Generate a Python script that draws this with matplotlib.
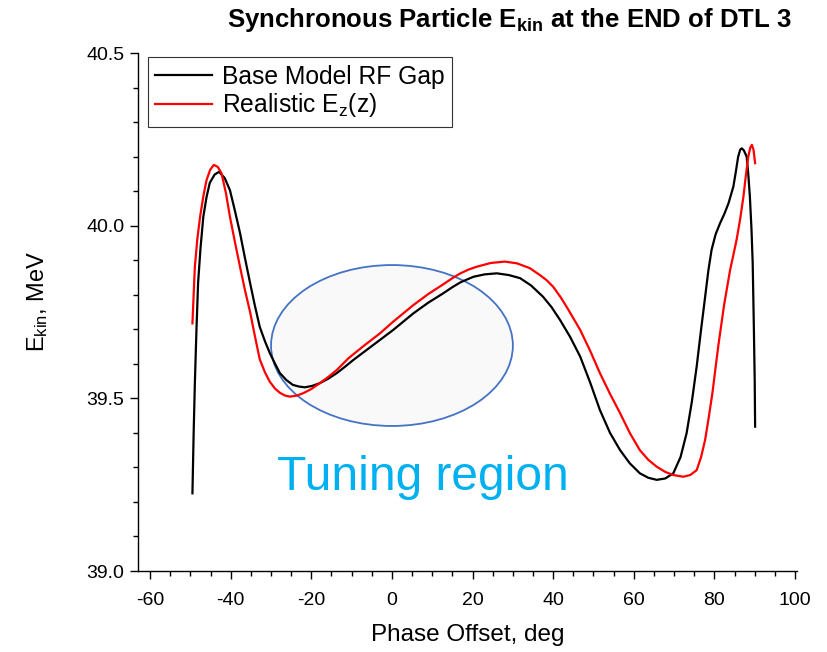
import matplotlib
matplotlib.use('Agg')
import matplotlib.pyplot as plt
from matplotlib.patches import Ellipse
from matplotlib.ticker import MultipleLocator, FormatStrFormatter

plt.rcParams['font.family'] = ['Liberation Sans', 'DejaVu Sans']
plt.rcParams['mathtext.fontset'] = 'custom'
plt.rcParams['mathtext.rm'] = 'Liberation Sans'
plt.rcParams['mathtext.it'] = 'Liberation Sans:italic'
plt.rcParams['mathtext.bf'] = 'Liberation Sans:bold'
plt.rcParams['axes.unicode_minus'] = False

# synchronous particle energy vs phase offset, base RF gap model
phase_base = [-49.5, -49.2, -48.9, -48.5, -48.1, -47.5, -46.8, -46.0, -45.2, -44.0,
              -42.9, -41.5, -40.2, -39.0, -37.7, -36.5, -35.2, -34.0, -32.8, -31.5,
              -30.3, -29.0, -27.8, -26.2, -24.6, -23.0, -21.6, -19.8, -17.9, -15.8,
              -13.7, -11.6, -9.6, -6.3, -3.0, 0.3, 2.8, 5.3, 9.0, 12.7,
              15.0, 17.0, 20.2, 23.0, 26.0, 29.0, 31.8, 34.5, 37.5, 39.6,
              41.7, 44.2, 46.7, 49.2, 51.6, 54.1, 56.6, 59.0, 61.5, 63.6,
              65.7, 67.8, 69.8, 71.6, 73.1, 74.4, 75.6, 76.7, 77.7, 78.5,
              79.3, 80.3, 81.4, 82.5, 83.5, 84.7, 85.3, 85.9, 86.4, 86.8,
              87.3, 88.0, 88.4, 88.8, 89.2, 89.5, 89.8, 90.0, 90.1]
ekin_base = [39.225, 39.400, 39.544, 39.700, 39.834, 39.935, 40.026, 40.083, 40.124, 40.148,
             40.156, 40.138, 40.103, 40.045, 39.979, 39.908, 39.834, 39.768, 39.707, 39.665,
             39.631, 39.600, 39.573, 39.553, 39.539, 39.534, 39.532, 39.536, 39.544, 39.557,
             39.573, 39.592, 39.611, 39.640, 39.669, 39.698, 39.722, 39.746, 39.777, 39.804,
             39.822, 39.836, 39.852, 39.859, 39.862, 39.857, 39.848, 39.827, 39.794, 39.764,
             39.727, 39.678, 39.621, 39.545, 39.466, 39.400, 39.350, 39.312, 39.283, 39.270,
             39.264, 39.268, 39.283, 39.330, 39.399, 39.490, 39.592, 39.700, 39.794, 39.870,
             39.930, 39.975, 40.007, 40.035, 40.065, 40.113, 40.155, 40.200, 40.220, 40.224,
             40.218, 40.200, 40.150, 40.084, 39.990, 39.891, 39.698, 39.550, 39.418]

# same with the realistic Ez(z) field map
phase_real = [-49.5, -49.2, -48.9, -48.3, -47.6, -46.8, -46.0, -45.1, -44.2, -43.2,
              -42.3, -41.2, -40.2, -39.0, -37.7, -36.5, -35.2, -34.0, -32.8, -31.5,
              -30.3, -29.0, -27.8, -26.5, -25.3, -23.6, -22.0, -20.0, -17.9, -15.8,
              -13.7, -10.8, -7.0, -3.0, 0.3, 2.8, 5.3, 9.0, 12.7, 15.0,
              17.0, 19.0, 21.0, 24.5, 28.0, 31.0, 34.2, 36.7, 38.4, 40.0,
              41.9, 43.7, 46.7, 49.2, 51.6, 54.1, 56.6, 59.0, 61.5, 63.6,
              65.7, 67.8, 69.8, 72.3, 74.0, 75.6, 76.7, 77.7, 78.6, 79.5,
              80.3, 81.0, 82.4, 83.9, 84.7, 85.5, 86.4, 87.2, 87.8, 88.4,
              88.9, 89.3, 89.7, 90.1]
ekin_real = [39.717, 39.800, 39.881, 39.960, 40.026, 40.085, 40.132, 40.162, 40.176, 40.170,
             40.152, 40.095, 40.026, 39.955, 39.881, 39.815, 39.750, 39.680, 39.613, 39.575,
             39.548, 39.528, 39.516, 39.508, 39.505, 39.508, 39.515, 39.527, 39.544, 39.562,
             39.582, 39.616, 39.652, 39.688, 39.722, 39.746, 39.770, 39.802, 39.830, 39.848,
             39.862, 39.873, 39.881, 39.892, 39.896, 39.891, 39.877, 39.857, 39.842, 39.823,
             39.792, 39.758, 39.698, 39.637, 39.573, 39.513, 39.457, 39.400, 39.350, 39.322,
             39.302, 39.287, 39.278, 39.273, 39.278, 39.292, 39.330, 39.380, 39.445, 39.515,
             39.590, 39.655, 39.770, 39.872, 39.915, 39.959, 40.020, 40.084, 40.145, 40.200,
             40.226, 40.234, 40.220, 40.181]

fig = plt.figure(figsize=(8.28, 6.52), dpi=100)
ax = fig.add_axes([0.1667, 0.1242, 0.7959, 0.7945])

# tuning region highlight
ell = Ellipse((0, 39.653), 60, 0.466, facecolor='#f9f9f9', edgecolor='#4472C4',
              lw=1.3, zorder=1)
ax.add_patch(ell)
ax.text(-28.6, 39.235, 'Tuning region', color='#00B0F0', fontsize=34.5, zorder=2)

ax.plot(phase_base, ekin_base, color='black', lw=1.6, zorder=3, label='Base Model RF Gap')
ax.plot(phase_real, ekin_real, color='#ff0000', lw=1.6, zorder=3,
        label=r'Realistic E$_\mathrm{z}$(z)')

ax.set_xlim(-63, 100.5)
ax.set_ylim(39.0, 40.5)
ax.xaxis.set_major_locator(MultipleLocator(20))
ax.xaxis.set_minor_locator(MultipleLocator(5))
ax.yaxis.set_major_locator(MultipleLocator(0.5))
ax.yaxis.set_minor_locator(MultipleLocator(0.1))
ax.yaxis.set_major_formatter(FormatStrFormatter('%.1f'))

for s in ['top', 'right']:
    ax.spines[s].set_visible(False)
for s in ['left', 'bottom']:
    ax.spines[s].set_linewidth(1.0)
ax.tick_params(which='major', direction='out', length=6.0, width=1.0, labelsize=14)
ax.tick_params(which='minor', direction='out', length=3.5, width=1.0)
ax.tick_params(axis='x', which='major', pad=9)
ax.tick_params(axis='y', which='major', pad=4)

ax.set_xlabel('Phase Offset, deg', fontsize=17.5, labelpad=11)
ax.set_ylabel(r'E$_\mathrm{kin}$, MeV', fontsize=17)
ax.yaxis.set_label_coords(-0.133, 0.52)

leg = ax.legend(loc='upper left', bbox_to_anchor=(0.0152, 0.992), borderaxespad=0,
                fontsize=17.7, handlelength=2.3, handletextpad=0.4, labelspacing=0.12,
                borderpad=0.3, fancybox=False, framealpha=1)
leg.get_frame().set_edgecolor('#333333')
leg.get_frame().set_linewidth(0.8)

fig.text(0.6153, 0.9586, r'Synchronous Particle E$_{\mathbf{kin}}$ at the END of DTL 3',
         ha='center', va='baseline', fontsize=18.5, fontweight='bold')

fig.savefig('out.png', dpi=100)
